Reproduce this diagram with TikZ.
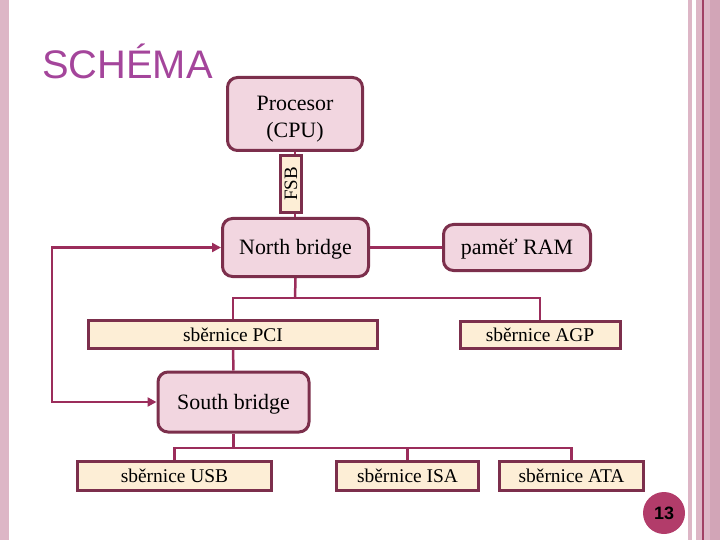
\documentclass[tikz,border=0pt]{standalone}
\usepackage{fontspec}
\setmainfont{Liberation Serif}
\newfontfamily\titlefont{Liberation Sans}
\usetikzlibrary{arrows.meta}
\definecolor{boxborder}{HTML}{7C2F4C}
\definecolor{conncol}{HTML}{9B2D5B}
\definecolor{pinkfill}{HTML}{F2D6E0}
\definecolor{creamfill}{HTML}{FDEED6}
\definecolor{titlecol}{HTML}{A4459B}
\definecolor{stripe}{HTML}{DDB6C6}
\definecolor{stripedark}{HTML}{D2A5B7}
\definecolor{stripeline}{HTML}{A04064}
\definecolor{numcol}{HTML}{B23C6A}
\newcommand{\lowertext}[1]{\raisebox{-5bp}[\height][\depth]{#1}}
\tikzset{
  rboxbase/.style={draw=boxborder, line width=3bp, fill=pinkfill, rounded corners=10bp,
    inner sep=0pt, align=center, font=\fontsize{22}{27}\selectfont},
  rbox/.style={rboxbase, text height=20bp, text depth=5bp},
  busbox/.style={draw=boxborder, line width=3bp, fill=creamfill, inner sep=0pt,
    font=\fontsize{19.5}{22}\selectfont, text height=19bp, text depth=4.2bp},
  conn/.style={draw=conncol, line width=2.5bp},
  tipped/.style={{Triangle[length=9bp,width=9bp]}-{Triangle[length=9bp,width=9bp]}},
}
\begin{document}
\begin{tikzpicture}[x=1bp,y=-1bp]
\useasboundingbox (0,0) rectangle (720,540);
% page decorations
\fill[stripe] (0,0) rectangle (9,540);
\fill[stripe] (688,0) rectangle (692,540);
\fill[stripe] (696,0) rectangle (710,540);
\fill[stripedark] (710,0) rectangle (720,540);
\fill[stripeline] (702,0) rectangle (703.5,540);
\node[anchor=base west, inner sep=0pt, text=titlecol, font=\titlefont\fontsize{40}{44}\selectfont] (title) at (42,79) {SCHÉMA};
\node[circle, fill=numcol, minimum size=42bp, inner sep=0pt, font=\titlefont\bfseries\fontsize{18}{20}\selectfont] (num) at (664,513) {13};
% nodes
\node[rboxbase, minimum width=135bp, minimum height=73bp] (cpu) at (295,114) {\lowertext{Procesor}\\\lowertext{(CPU)}};
\node[busbox, minimum width=21bp, minimum height=57bp] (fsb) at (291,184) {};
\node[rotate=90, inner sep=0pt, font=\fontsize{19}{22}\selectfont] (fsbtext) at (291,184) {FSB};
\node[rbox, minimum width=146bp, minimum height=58bp] (north) at (295.5,247.5) {North bridge};
\node[rbox, minimum width=147bp, minimum height=46bp] (ram) at (517,247.5) {paměť RAM};
\node[busbox, minimum width=288bp, minimum height=28bp] (pci) at (233,334) {sběrnice PCI};
\node[busbox, minimum width=160bp, minimum height=27bp] (agp) at (540,334.5) {sběrnice AGP};
\node[rbox, minimum width=151bp, minimum height=60bp] (south) at (233.5,402) {South bridge};
\node[busbox, minimum width=194bp, minimum height=29bp] (usb) at (174.5,475.5) {sběrnice USB};
\node[busbox, minimum width=142bp, minimum height=29bp] (isa) at (407.5,475.5) {sběrnice ISA};
\node[busbox, minimum width=144bp, minimum height=29bp] (ata) at (571.5,475.5) {sběrnice ATA};
\coordinate (j1) at (295,298);
\coordinate (j2) at (233,448);
\coordinate (lp) at (52,0);
% connectors
\draw[conn] (cpu.south) -- (cpu.south |- fsb.north);
\draw[conn] (cpu.south |- fsb.south) -- (cpu.south |- north.north);
\draw[conn] (north.east) -- (ram.west);
\draw[conn] (north.south) -- (j1);
\draw[conn] (pci.north) -- (pci.north |- j1) -- (agp.north |- j1) -- (agp.north);
\draw[conn] (pci.south) -- (south.north);
\draw[conn, tipped] (north.west) -- (north.west -| lp) -- (south.west -| lp) -- (south.west);
\draw[conn] (south.south) -- (south.south |- j2);
\draw[conn] (usb.north) -- (usb.north |- j2) -- (ata.north |- j2) -- (ata.north);
\draw[conn] (isa.north) -- (isa.north |- j2);
\end{tikzpicture}
\end{document}
